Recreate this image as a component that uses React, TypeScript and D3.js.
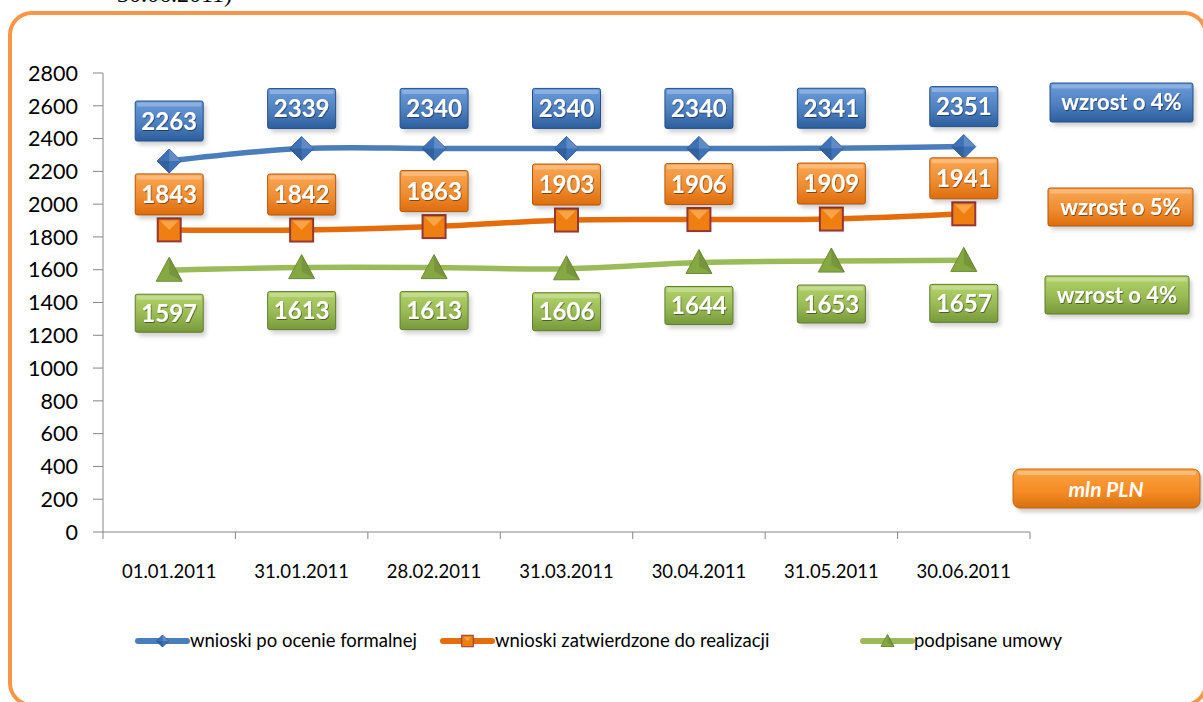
import React from 'react';
import * as d3 from 'd3';

const dates = ['01.01.2011', '31.01.2011', '28.02.2011', '31.03.2011', '30.04.2011', '31.05.2011', '30.06.2011'];
const formalne = [2263, 2339, 2340, 2340, 2340, 2341, 2351];
const zatwierdzone = [1843, 1842, 1863, 1903, 1906, 1909, 1941];
const umowy = [1597, 1613, 1613, 1606, 1644, 1653, 1657];
const seriesNames = ['wnioski po ocenie formalnej', 'wnioski zatwierdzone do realizacji', 'podpisane umowy'];
const growthLabels = ['wzrost o 4%', 'wzrost o 5%', 'wzrost o 4%'];
const yTicks = [0, 200, 400, 600, 800, 1000, 1200, 1400, 1600, 1800, 2000, 2200, 2400, 2600, 2800];

const W = 1203;
const H = 702;
const FONT = 'Lato, "Open Sans", sans-serif';

const palette = [
  { line: '#4A7EBB', top: '#6A9BDA', bottom: '#2C5D9C', edge: '#24508A', mark: '#3D72B8' },
  { line: '#E46C0A', top: '#FBA752', bottom: '#DE6D0C', edge: '#B5560A', mark: '#F07F12' },
  { line: '#9BBB59', top: '#B3D36A', bottom: '#77993A', edge: '#5F7D2D', mark: '#85A843' },
];

// Box shape like Excel's "intense effect" with gradient and shadow
const Box = ({ x, y, w, h, i, rx = 2 }: any) => (
  <g>
    <rect x={x + 3} y={y + 4} width={w} height={h} rx={rx} fill="#000" opacity={0.18} filter="url(#blur)" />
    <rect x={x} y={y} width={w} height={h} rx={rx} fill={`url(#grad${i})`} stroke={palette[i].edge} strokeWidth={1} />
    <rect x={x + 2} y={y + 1.5} width={w - 4} height={4} rx={1} fill="#fff" opacity={0.25} />
  </g>
);

const Marker = ({ cx, cy, i, s = 1 }: any) => {
  const p = palette[i];
  if (i === 0) {
    const r = 12 * s;
    return (
      <g>
        <path d={`M${cx},${cy - r}L${cx + r},${cy}L${cx},${cy + r}L${cx - r},${cy}Z`} fill={p.mark} stroke="#2F5F9E" strokeWidth={1} />
        <path d={`M${cx},${cy - r}L${cx + r},${cy}L${cx},${cy}Z`} fill="#fff" opacity={0.18} />
        <path d={`M${cx},${cy}L${cx},${cy + r}L${cx - r},${cy}Z`} fill="#000" opacity={0.15} />
      </g>
    );
  }
  if (i === 1) {
    const r = 11.5 * s;
    return (
      <g>
        <rect x={cx - r} y={cy - r} width={2 * r} height={2 * r} fill={p.mark} stroke="#953735" strokeWidth={2 * s} />
        <path d={`M${cx - r + 2},${cy - r + 2}L${cx + r - 2},${cy - r + 2}L${cx},${cy}Z`} fill="#FDB45C" opacity={0.7} />
      </g>
    );
  }
  const r = 13 * s;
  return (
    <g>
      <path d={`M${cx},${cy - r}L${cx + r},${cy + r * 0.85}L${cx - r},${cy + r * 0.85}Z`} fill={p.mark} stroke="#6E8C35" strokeWidth={1} />
      <path d={`M${cx},${cy - r}L${cx + r},${cy + r * 0.85}L${cx},${cy + r * 0.3}Z`} fill="#000" opacity={0.1} />
    </g>
  );
};

export default function App() {
  const x = d3.scaleBand().domain(dates).range([103, 1030]);
  const y = d3.scaleLinear().domain([0, 2800]).range([532, 73]);
  const cx = (d: string) => (x(d) as number) + x.bandwidth() / 2;
  const all = [formalne, zatwierdzone, umowy];
  const line = d3
    .line<number>()
    .x((_, k) => cx(dates[k]))
    .y((v) => y(v))
    .curve(d3.curveCatmullRom.alpha(0.5));

  // label box top relative to the marker
  const labelPos = [
    (v: number) => y(v) - 20 - 40,
    (v: number) => y(v) - 15 - 41,
    (v: number) => y(v) + 24,
  ];
  const labelH = [40, 41, 38];
  const growthBoxes = [
    { x: 1050, y: 83, w: 143, h: 39 },
    { x: 1048, y: 188, w: 145, h: 38 },
    { x: 1045, y: 276, w: 144, h: 38 },
  ];
  const legend = [
    { x0: 138, tx: 190 },
    { x0: 443, tx: 495 },
    { x0: 863, tx: 914 },
  ];

  return (
    <svg width={W} height={H} style={{ position: 'absolute', left: 0, top: 0, background: '#fff' }}>
      <defs>
        {palette.map((p, i) => (
          <linearGradient key={i} id={`grad${i}`} x1="0" y1="0" x2="0" y2="1">
            <stop offset="0" stopColor={p.top} />
            <stop offset="0.55" stopColor={d3.interpolateRgb(p.top, p.bottom)(0.45)} />
            <stop offset="1" stopColor={p.bottom} />
          </linearGradient>
        ))}
        <linearGradient id="gradPln" x1="0" y1="0" x2="0" y2="1">
          <stop offset="0" stopColor="#FBA445" />
          <stop offset="0.6" stopColor="#F58A22" />
          <stop offset="1" stopColor="#D9700F" />
        </linearGradient>
        <filter id="blur" x="-20%" y="-20%" width="140%" height="140%">
          <feGaussianBlur stdDeviation="2" />
        </filter>
        <filter id="tshadow" x="-10%" y="-10%" width="120%" height="130%">
          <feDropShadow dx="0.8" dy="1" stdDeviation="0.6" floodColor="#000" floodOpacity="0.45" />
        </filter>
      </defs>

      <text x={117} y={2} fontFamily="'Liberation Serif', serif" fontSize={24} fill="#000">30.06.2011)</text>

      <rect x={10} y={13} width={1196} height={692} rx={22} fill="none" stroke="#F79646" strokeWidth={4} />

      {/* y axis */}
      <line x1={103} x2={103} y1={y(2800)} y2={y(0)} stroke="#868686" strokeWidth={1} />
      {yTicks.map((t) => (
        <g key={t}>
          <line x1={93} x2={103} y1={y(t)} y2={y(t)} stroke="#868686" />
          <text x={78} y={y(t)} dy="0.36em" textAnchor="end" fontFamily={FONT} fontSize={21.5} fill="#000">{t}</text>
        </g>
      ))}

      {/* x axis */}
      <line x1={103} x2={1030} y1={y(0)} y2={y(0)} stroke="#868686" />
      {[...dates.map((d) => x(d) as number), 1030].map((v, k) => (
        <line key={k} x1={v} x2={v} y1={y(0)} y2={y(0) + 7} stroke="#868686" />
      ))}
      {dates.map((d) => (
        <text key={d} x={cx(d)} y={572} dy="0.35em" textAnchor="middle" fontFamily={FONT} fontSize={18.5} fill="#000">{d}</text>
      ))}

      {/* lines */}
      {all.map((s, i) => (
        <path key={i} d={line(s) as string} fill="none" stroke={palette[i].line} strokeWidth={5.5} strokeLinecap="round" />
      ))}
      {all.map((s, i) => s.map((v, k) => <Marker key={`${i}-${k}`} cx={cx(dates[k])} cy={y(v)} i={i} />))}

      {/* data labels */}
      {all.map((s, i) =>
        s.map((v, k) => {
          const top = labelPos[i](v);
          const h = labelH[i];
          return (
            <g key={`l${i}-${k}`}>
              <Box x={cx(dates[k]) - 34} y={top} w={68} h={h} i={i} />
              <text x={cx(dates[k])} y={top + h / 2} dy="0.36em" textAnchor="middle" fontFamily={FONT} fontWeight="bold" fontSize={24} fill="#fff" filter="url(#tshadow)">{v}</text>
            </g>
          );
        })
      )}

      {/* growth notes */}
      {growthBoxes.map((b, i) => (
        <g key={`g${i}`}>
          <Box x={b.x} y={b.y} w={b.w} h={b.h} i={i} />
          <text x={b.x + b.w / 2} y={b.y + b.h / 2} dy="0.36em" textAnchor="middle" fontFamily={FONT} fontWeight="bold" fontSize={22} fill="#fff" filter="url(#tshadow)">{growthLabels[i]}</text>
        </g>
      ))}

      {/* unit */}
      <g>
        <rect x={1016} y={473} width={187} height={39} rx={7} fill="#000" opacity={0.2} filter="url(#blur)" />
        <rect x={1013} y={469} width={187} height={39} rx={7} fill="url(#gradPln)" stroke="#C8650C" strokeWidth={1} />
        <rect x={1017} y={471} width={179} height={4} rx={2} fill="#fff" opacity={0.3} />
        <text x={1106} y={489} dy="0.36em" textAnchor="middle" fontFamily={FONT} fontWeight="bold" fontStyle="italic" fontSize={21} fill="#fff">mln PLN</text>
      </g>

      {/* legend */}
      {legend.map((l, i) => (
        <g key={`lg${i}`}>
          <line x1={l.x0} x2={l.x0 + 49} y1={641} y2={641} stroke={palette[i].line} strokeWidth={6} strokeLinecap="round" />
          <Marker cx={l.x0 + 24.5} cy={641} i={i} s={0.5} />
          <text x={l.tx} y={641} dy="0.35em" fontFamily={FONT} fontSize={18.5} fill="#000">{seriesNames[i]}</text>
        </g>
      ))}
    </svg>
  );
}
